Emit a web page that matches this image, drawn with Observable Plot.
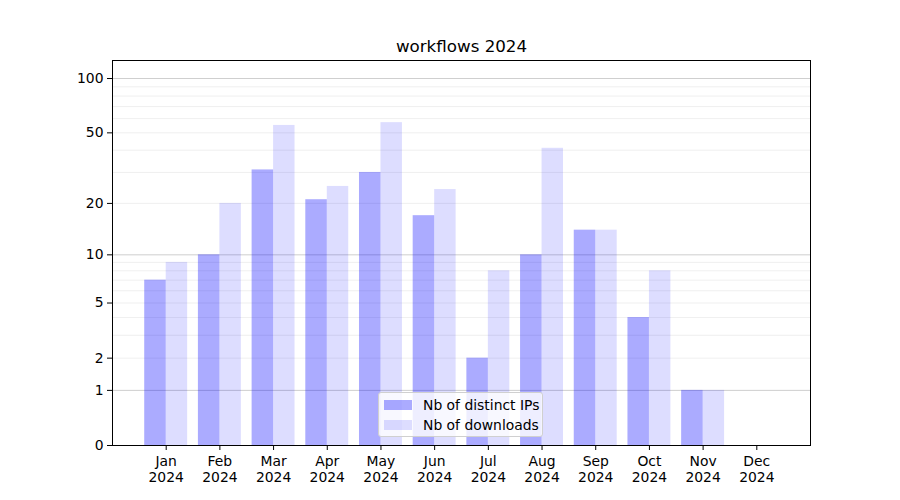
<!DOCTYPE html>
<html>
<head>
<meta charset="utf-8">
<script src="https://cdn.jsdelivr.net/npm/d3@7"></script>
<script src="https://cdn.jsdelivr.net/npm/@observablehq/plot@0.6"></script>
<style>
  html, body { margin: 0; padding: 0; background: #fff; }
  #wrap { position: relative; width: 900px; height: 500px; font-family: "DejaVu Sans", sans-serif; }
  #legend { position: absolute; left: 378px; top: 392px; width: 165px; height: 45px;
    border: 1px solid #d0d0d0; border-radius: 3px; background: rgba(255,255,255,0.8);
    font-size: 13.9px; color: #000; box-sizing: border-box; }
  .item { position: absolute; left: 5px; height: 20px; display: flex; align-items: center; }
  .sw { width: 28px; height: 10px; margin-right: 11px; }
</style>
</head>
<body>
<div id="wrap"></div>
<script>
const title = "workflows 2024";
const months = ["Jan","Feb","Mar","Apr","May","Jun","Jul","Aug","Sep","Oct","Nov","Dec"];
const year = "2024";
const distinctIPs = [7, 10, 31, 21, 30, 17, 2, 10, 14, 4, 1, 0];
const downloads = [9, 20, 55, 25, 57, 24, 8, 41, 14, 8, 1, 0];
const seriesNames = ["Nb of distinct IPs", "Nb of downloads"];
const seriesColors = ["rgba(0,0,255,0.33)", "rgba(0,0,255,0.135)"];
const yTicks = [0, 1, 2, 5, 10, 20, 50, 100];
const majorGrid = [1, 10, 100];
const minorGrid = [2, 3, 4, 5, 6, 7, 8, 9, 20, 30, 40, 50, 60, 70, 80, 90];

const barW = 0.4;
const idx = months.map((m, i) => i);

const plot = Plot.plot({
  width: 900,
  height: 500,
  marginLeft: 112,
  marginRight: 90,
  marginTop: 60,
  marginBottom: 55,
  style: { fontFamily: "DejaVu Sans, sans-serif", fontSize: "13.9px", color: "#000", background: "#fff" },
  x: { type: "linear", domain: [-1, 12] },
  y: { type: "symlog", constant: 1, domain: [0, 125.7] },
  marks: [
    Plot.ruleY(minorGrid, { stroke: "#ebebeb", strokeWidth: 0.8 }),
    Plot.ruleY(majorGrid, { stroke: "#c2c2c2", strokeWidth: 0.8 }),
    Plot.rectY(idx, { x1: i => i - barW, x2: i => i, y1: 0, y2: i => distinctIPs[i], fill: seriesColors[0], inset: 0 }),
    Plot.rectY(idx, { x1: i => i, x2: i => i + barW, y1: 0, y2: i => downloads[i], fill: seriesColors[1], inset: 0 }),
    Plot.axisY({ ticks: yTicks, tickFormat: d => String(d), tickSize: 5, tickPadding: 4, label: null, fontSize: 13.9 }),
    Plot.axisX({ ticks: idx, tickFormat: i => months[i] + "\n" + year, tickSize: 5, tickPadding: 4, label: null, fontSize: 13.9, lineHeight: 1.17 }),
    Plot.frame({ stroke: "#000", strokeWidth: 1 }),
    Plot.text([title], { frameAnchor: "top", dy: -14, lineAnchor: "middle", fontSize: 16.7, fill: "#000" })
  ]
});

const wrap = document.getElementById("wrap");
wrap.appendChild(plot);

const legend = document.createElement("div");
legend.id = "legend";
seriesNames.forEach((name, k) => {
  const item = document.createElement("div");
  item.className = "item";
  item.style.top = (2 + k * 20) + "px";
  const sw = document.createElement("div");
  sw.className = "sw";
  sw.style.background = seriesColors[k];
  const tx = document.createElement("span");
  tx.textContent = name;
  item.appendChild(sw);
  item.appendChild(tx);
  legend.appendChild(item);
});
wrap.appendChild(legend);
</script>
</body>
</html>
